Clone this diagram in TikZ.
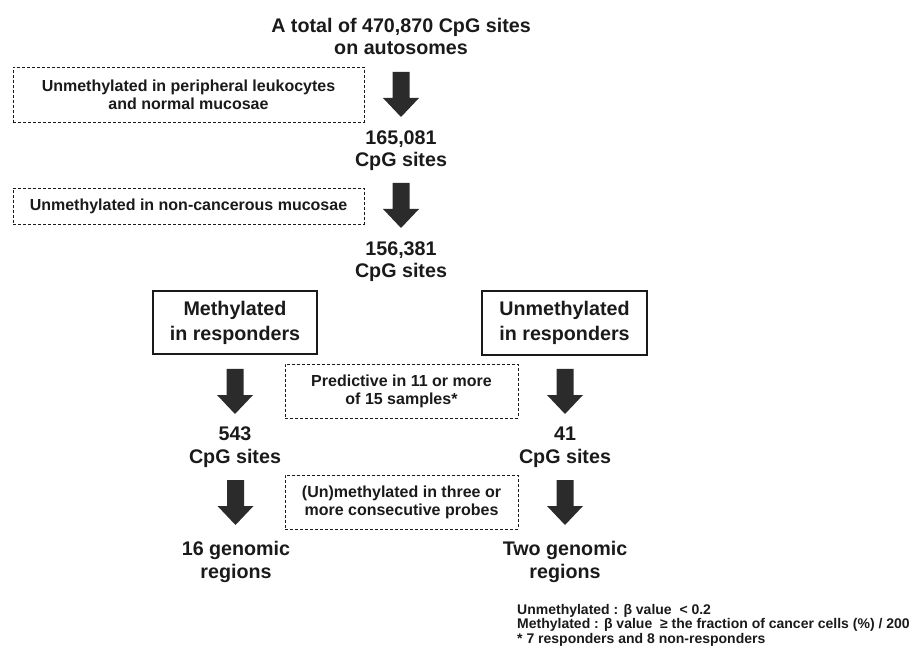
\documentclass[tikz,border=0pt]{standalone}
\usepackage{fontspec}
\setmainfont{Liberation Sans}
\definecolor{inkc}{HTML}{1A1A1A}
\definecolor{arrc}{HTML}{2B2B2B}
\tikzset{
  bigtxt/.style={font=\fontsize{19.7}{22.5}\selectfont\bfseries, text=inkc, align=center, inner sep=0pt},
  dashbox/.style={draw=inkc, line width=0.9pt, dash pattern=on 3pt off 2pt, font=\fontsize{16}{18}\selectfont\bfseries, text=inkc, align=center, inner sep=0pt},
  solidbox/.style={draw=inkc, line width=1.1pt, font=\fontsize{19.7}{25}\selectfont\bfseries, text=inkc, align=center, inner sep=0pt, minimum width=164pt, minimum height=63pt},
  notetxt/.style={font=\fontsize{14}{13}\selectfont\bfseries, text=inkc, align=left, inner sep=0pt},
  blockarr/.pic={\fill[arrc] (-8.5,0) -- (8.5,0) -- (8.5,26) -- (18,26) -- (0,45) -- (-18,26) -- (-8.5,26) -- cycle;}
}
\begin{document}
\begin{tikzpicture}[x=1pt,y=-1pt]
\useasboundingbox (0,0) rectangle (914,647);
% texts
\node[bigtxt, anchor=base] (title) at (401,55) {A total of 470,870 CpG sites\\on autosomes};
\node[bigtxt, anchor=base] (n165) at (401,167) {165,081\\CpG sites};
\node[bigtxt, anchor=base] (n156) at (401,278) {156,381\\CpG sites};
\node[bigtxt, anchor=base] (n543) at (235,463) {543\\CpG sites};
\node[bigtxt, anchor=base] (n41) at (565,463) {41\\CpG sites};
\node[bigtxt, anchor=base] (n16) at (236,578) {16 genomic\\regions};
\node[bigtxt, anchor=base] (ntwo) at (565,578) {Two genomic\\regions};
% boxes
\node[dashbox, minimum width=351pt, minimum height=55pt] (f1) at (188.5,94.5) {Unmethylated in peripheral leukocytes\\and normal mucosae};
\node[dashbox, minimum width=351pt, minimum height=36pt] (f2) at (188.5,206) {Unmethylated in non-cancerous mucosae};
\node[solidbox] (meth) at (235,322.5) {Methylated\\in responders};
\node[solidbox, minimum width=165pt, minimum height=64pt] (unmeth) at (564.5,323) {Unmethylated\\in responders};
\node[dashbox, minimum width=233pt, minimum height=54pt] (f3) at (401.5,391) {Predictive in 11 or more\\of 15 samples*};
\node[dashbox, minimum width=233pt, minimum height=54pt] (f4) at (401.5,502) {(Un)methylated in three or\\more consecutive probes};
% arrows
\coordinate (a1) at (401,72);
\coordinate (a2) at (401,183);
\coordinate (a3l) at (235,369);
\coordinate (a3r) at (565,369);
\coordinate (a4l) at (235.5,480);
\coordinate (a4r) at (565,480);
\foreach \c in {a1,a2,a3l,a3r,a4l,a4r} {\pic at (\c) {blockarr};}
% footnote
\node[notetxt, anchor=base west] (note) at (517,643) {Unmethylated : β value~~< 0.2\\Methylated : β value~~≥ the fraction of cancer cells (\%) / 200\\* 7 responders and 8 non-responders};
\end{tikzpicture}
\end{document}
